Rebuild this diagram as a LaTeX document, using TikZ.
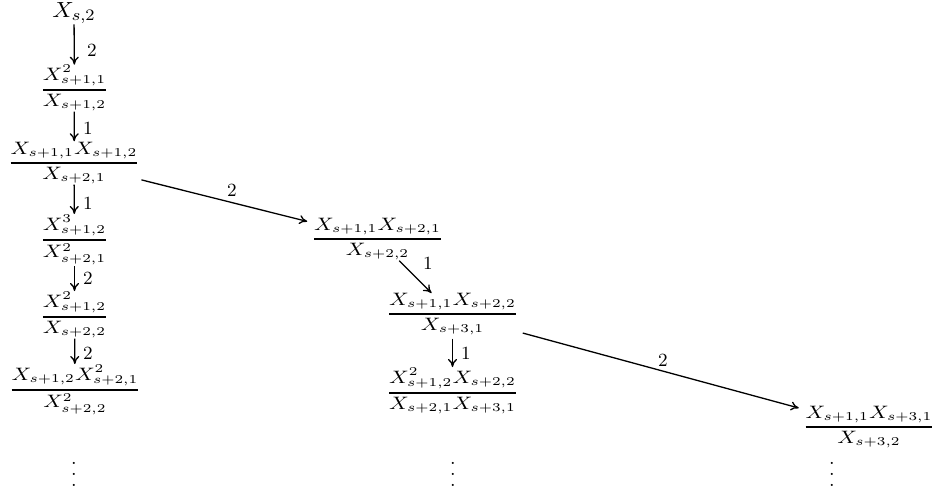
\documentclass[tikz,border=0pt]{standalone}
\usepackage{amsmath}
\usepackage{graphicx}
\usetikzlibrary{arrows.meta}
\newcommand{\myfrac}[2]{\scalebox{1.18}[1]{$\genfrac{}{}{1.3pt}{1}{#1}{#2}$}}
\newcommand{\mydots}{\vbox{\baselineskip5.5pt\lineskiplimit0pt\hbox{.}\hbox{.}\hbox{.}}}
\begin{document}
\begin{tikzpicture}[x=0.5pt,y=-0.5pt,
  fr/.style={inner sep=0pt, outer sep=0.6pt, font=\fontsize{12.2}{14}\selectfont, anchor=base},
  lab/.style={inner sep=0pt, font=\fontsize{9.3}{11}\selectfont},
  dotsty/.style={inner sep=0pt, font=\fontsize{10}{12}\selectfont},
  arr/.style={-{To[length=4pt,width=4.5pt]}, line width=0.65pt},
  ]
\useasboundingbox[fill=white] (0,0) rectangle (935,493);

\node[fr, outer sep=0pt, font=\fontsize{11}{13}\selectfont] (n0) at (74,17) {\scalebox{1.08}[1]{$X_{s,2}$}};
\node[fr] (f1) at (74.5,96) {\myfrac{X^2_{s+1,1}}{X_{s+1,2}}};
\node[fr] (f2) at (74,169) {\myfrac{X_{s+1,1}X_{s+1,2}}{X_{s+2,1}}};
\node[fr] (f3) at (74.5,246) {\myfrac{X^3_{s+1,2}}{X^2_{s+2,1}}};
\node[fr] (f4) at (74.5,323) {\myfrac{X^2_{s+1,2}}{X_{s+2,2}}};
\node[fr] (f5) at (75,396) {\myfrac{X_{s+1,2}X^2_{s+2,1}}{X^2_{s+2,2}}};
\node[fr, outer sep=2pt] (a) at (377.5,245) {\myfrac{X_{s+1,1}X_{s+2,1}}{X_{s+2,2}}};
\node[fr, outer sep=2pt] (b) at (452.5,320) {\myfrac{X_{s+1,1}X_{s+2,2}}{X_{s+3,1}}};
\node[fr] (c) at (452.5,399) {\myfrac{X^2_{s+1,2}X_{s+2,2}}{X_{s+2,1}X_{s+3,1}}};
\node[fr, outer sep=2pt] (d) at (869,433) {\myfrac{X_{s+1,1}X_{s+3,1}}{X_{s+3,2}}};

\node[dotsty] (v1) at (74,474) {\mydots};
\node[dotsty] (v2) at (453,474) {\mydots};
\node[dotsty] (v3) at (832,474) {\mydots};

\draw[arr, shorten <=0.5pt, shorten >=-0.3pt] (n0) -- (f1);
\draw[arr] (f1) -- (f2);
\draw[arr] (f2) -- (f3);
\draw[arr] (f3) -- (f4);
\draw[arr] (f4) -- (f5);
\draw[arr] (f2) -- (a);
\draw[arr, shorten <=-2pt, shorten >=-2.5pt] (a) -- (b);
\draw[arr] (b) -- (c);
\draw[arr] (b) -- (d);

\node[lab] (l1) at (92,50) {2};
\node[lab] (l2) at (88,128) {1};
\node[lab] (l3) at (88,203) {1};
\node[lab] (l4) at (88,278) {2};
\node[lab] (l5) at (88,353) {2};
\node[lab] (l6) at (232,190) {2};
\node[lab] (l7) at (428,263) {1};
\node[lab] (l8) at (466,353) {1};
\node[lab] (l9) at (663,360) {2};
\end{tikzpicture}
\end{document}
